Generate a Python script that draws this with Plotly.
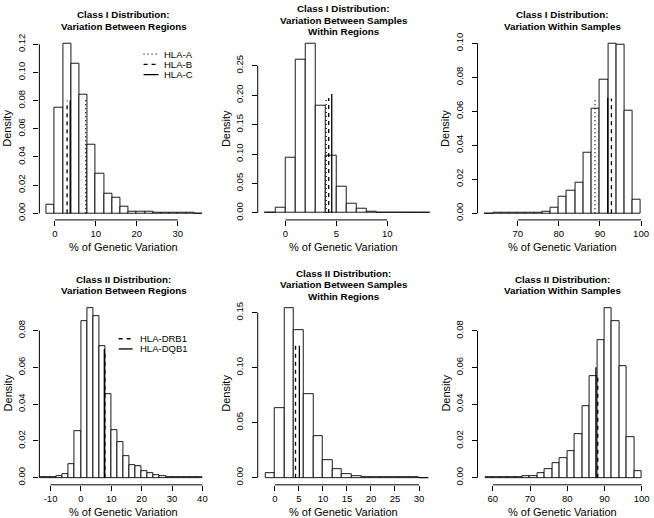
import plotly.graph_objects as go

# ---------------- data ----------------
# Class I - variation between regions
c1_reg_bin_start = -2
c1_reg_bin_width = 2
c1_reg_density = [0.0059, 0.0752, 0.1205, 0.1060, 0.0839, 0.0487, 0.0279, 0.0140, 0.0113, 0.0047,
                  0.0012, 0.0010, 0.0008, 0.0006, 0.0004, 0.0002, 0.0001, 0.0001, 0.00005]
c1_reg_obs = [7.5, 3.0, 3.75]
c1_reg_obs_top = [0.082, 0.080, 0.080]

# Class I - variation between samples within regions
c1_samp_bin_start = -2
c1_samp_bin_width = 1
c1_samp_density = [0.0001, 0.0084, 0.0936, 0.2595, 0.2876, 0.1820, 0.0970, 0.0448, 0.0163, 0.0067,
                   0.0028, 0.0012, 0.0006, 0.0003, 0.0002, 0.0001, 0.00005]
c1_samp_obs = [4.0, 4.25, 4.55]
c1_samp_obs_top = [0.195, 0.195, 0.202]

# Class I - variation within samples
c1_within_bin_start = 62
c1_within_bin_width = 2
c1_within_density = [0.00005, 0.0001, 0.0001, 0.0002, 0.0003, 0.0004, 0.0005, 0.0012, 0.0030, 0.0095,
                     0.0134, 0.0180, 0.0355, 0.0614, 0.0784, 0.0998, 0.0990, 0.0604, 0.0078]
c1_within_obs = [88.8, 92.8, 91.9]
c1_within_obs_top = [0.068, 0.0675, 0.068]

# Class II - variation between regions
c2_reg_bin_start = -14
c2_reg_bin_width = 2
c2_reg_density = [0.0002, 0.0003, 0.0005, 0.0009, 0.0018, 0.0071, 0.0252, 0.0850, 0.0920, 0.0880,
                  0.0714, 0.0457, 0.0256, 0.0194, 0.0118, 0.0070, 0.0061, 0.0038, 0.0023, 0.0014,
                  0.0009, 0.0005, 0.0003, 0.0002, 0.0001, 0.00005, 0.00003]
c2_reg_obs = [7.9, 7.7]
c2_reg_obs_top = [0.068, 0.070]

# Class II - variation between samples within regions
c2_samp_bin_start = -2
c2_samp_bin_width = 2
c2_samp_density = [0.0040, 0.0630, 0.1545, 0.1340, 0.0760, 0.0380, 0.0160, 0.0075, 0.0036, 0.0018,
                   0.0009, 0.0005, 0.0004, 0.0003, 0.0002, 0.0001, 0.00005]
c2_samp_obs = [4.3, 5.1]
c2_samp_obs_top = [0.120, 0.120]

# Class II - variation within samples
c2_within_bin_start = 58
c2_within_bin_width = 2
c2_within_density = [0.00005, 0.0001, 0.0001, 0.0003, 0.0005, 0.0007, 0.0011, 0.0023, 0.0049, 0.0079,
                     0.0104, 0.0146, 0.0239, 0.0388, 0.0552, 0.0752, 0.0926, 0.0852, 0.0608, 0.0219,
                     0.0034]
c2_within_obs = [88.2, 87.7]
c2_within_obs_top = [0.0566, 0.0602]

class1_loci = ["HLA-A", "HLA-B", "HLA-C"]
class2_loci = ["HLA-DRB1", "HLA-DQB1"]
locus_dash = {"HLA-A": "1px,3px", "HLA-B": "4px,4px", "HLA-C": "solid",
              "HLA-DRB1": "4px,4px", "HLA-DQB1": "solid"}

titles = [
    ["Class I Distribution:", "Variation Between Regions"],
    ["Class I Distribution:", "Variation Between Samples", "Within Regions"],
    ["Class I Distribution:", "Variation Within Samples"],
    ["Class II Distribution:", "Variation Between Regions"],
    ["Class II Distribution:", "Variation Between Samples", "Within Regions"],
    ["Class II Distribution:", "Variation Within Samples"],
]
x_label = "% of Genetic Variation"
y_label = "Density"

x_ticks = [[0, 10, 20, 30], [0, 5, 10], [70, 80, 90, 100],
           [-10, 0, 10, 20, 30, 40], [0, 5, 10, 15, 20, 25, 30], [60, 70, 80, 90, 100]]
y_ticks = [[0, 0.02, 0.04, 0.06, 0.08, 0.10, 0.12],
           [0, 0.05, 0.10, 0.15, 0.20, 0.25],
           [0, 0.02, 0.04, 0.06, 0.08, 0.10],
           [0, 0.02, 0.04, 0.06, 0.08],
           [0, 0.05, 0.10, 0.15],
           [0, 0.02, 0.04, 0.06, 0.08]]

panels = [
    (c1_reg_bin_start, c1_reg_bin_width, c1_reg_density, class1_loci, c1_reg_obs, c1_reg_obs_top),
    (c1_samp_bin_start, c1_samp_bin_width, c1_samp_density, class1_loci, c1_samp_obs, c1_samp_obs_top),
    (c1_within_bin_start, c1_within_bin_width, c1_within_density, class1_loci, c1_within_obs, c1_within_obs_top),
    (c2_reg_bin_start, c2_reg_bin_width, c2_reg_density, class2_loci, c2_reg_obs, c2_reg_obs_top),
    (c2_samp_bin_start, c2_samp_bin_width, c2_samp_density, class2_loci, c2_samp_obs, c2_samp_obs_top),
    (c2_within_bin_start, c2_within_bin_width, c2_within_density, class2_loci, c2_within_obs, c2_within_obs_top),
]

# ---------------- layout geometry (pixels) ----------------
W, H = 654, 518
COL_PX = [(39.5, 209.0), (258.5, 431.0), (479.0, 649.5)]
ROW_PX = [(33.0, 218.0), (300.0, 485.5)]
X_RANGE = [[-3.77, 37.47], [-2.73, 14.18], [60.23, 101.58],
           [-13.68, 41.97], [-3.57, 32.22], [55.9, 101.56]]
Y_RANGE = [[-0.0047, 0.1254], [-0.0118, 0.2993], [-0.0039, 0.1039],
           [-0.0039, 0.0960], [-0.0065, 0.1605], [-0.0039, 0.0962]]
TITLE_CENTER = [16.5, 283.5]
TITLE_LINE = 11.5

FONT = "Liberation Sans, Arial, Helvetica, sans-serif"


def px_x(px):
    return px / W


def px_y(py):
    return 1 - py / H


fig = go.Figure()
layout = dict(width=W, height=H, margin=dict(l=0, r=0, t=0, b=0),
              paper_bgcolor="white", plot_bgcolor="white", showlegend=False,
              font=dict(family=FONT, color="black"))
shapes = []
annotations = []

for i, (b0, bw, dens, loci, obs, obs_top) in enumerate(panels):
    r, c = divmod(i, 3)
    sfx = "" if i == 0 else str(i + 1)
    xa, ya = "x" + sfx, "y" + sfx
    (l_px, r_px), (t_px, b_px) = COL_PX[c], ROW_PX[r]

    centers = [b0 + bw * (k + 0.5) for k in range(len(dens))]
    fig.add_trace(go.Bar(x=centers, y=dens, width=bw, xaxis=xa, yaxis=ya,
                         marker=dict(color="white", line=dict(color="black", width=0.9)),
                         hoverinfo="x+y"))
    for name, v, top in zip(loci, obs, obs_top):
        fig.add_trace(go.Scatter(x=[v, v], y=[0, top], mode="lines", name=name,
                                 xaxis=xa, yaxis=ya,
                                 line=dict(color="black", width=1.3, dash=locus_dash[name])))

    layout["xaxis" + sfx] = dict(
        domain=[px_x(l_px), px_x(r_px)], range=X_RANGE[i], anchor=ya,
        showgrid=False, zeroline=False, showline=False,
        ticks="outside", ticklen=5, tickwidth=1, tickcolor="black",
        tickvals=x_ticks[i], ticktext=[str(t) for t in x_ticks[i]],
        tickfont=dict(size=9.5, family=FONT, color="black"))
    layout["yaxis" + sfx] = dict(
        domain=[px_y(b_px), px_y(t_px)], range=Y_RANGE[i], anchor=xa,
        showgrid=False, zeroline=False, showline=False,
        ticks="outside", ticklen=5, tickwidth=1, tickcolor="black",
        tickvals=y_ticks[i], ticktext=["%.2f" % t for t in y_ticks[i]],
        tickangle=-90, ticklabelstandoff=5,
        tickfont=dict(size=9.5, family=FONT, color="black"))

    # R-style axis lines: from first to last tick only
    shapes.append(dict(type="line", xref=xa, yref=ya + " domain",
                       x0=x_ticks[i][0], x1=x_ticks[i][-1], y0=0, y1=0,
                       line=dict(color="black", width=1)))
    shapes.append(dict(type="line", xref=xa + " domain", yref=ya,
                       x0=0, x1=0, y0=y_ticks[i][0], y1=y_ticks[i][-1],
                       line=dict(color="black", width=1)))

    # titles
    n = len(titles[i])
    cx = (l_px + r_px) / 2
    for k, line in enumerate(titles[i]):
        yy = TITLE_CENTER[r] + (k - (n - 1) / 2) * TITLE_LINE
        annotations.append(dict(text="<b>" + line + "</b>", x=px_x(cx), y=px_y(yy),
                                xref="paper", yref="paper", showarrow=False,
                                xanchor="center", yanchor="middle",
                                font=dict(size=9.8, family=FONT, color="black")))
    # axis titles
    annotations.append(dict(text=x_label, x=px_x(cx), y=px_y(b_px + 27),
                            xref="paper", yref="paper", showarrow=False,
                            xanchor="center", yanchor="middle",
                            font=dict(size=11, family=FONT, color="black")))
    annotations.append(dict(text=y_label, x=px_x(l_px - 32), y=px_y((t_px + b_px) / 2),
                            xref="paper", yref="paper", showarrow=False, textangle=-90,
                            xanchor="center", yanchor="middle",
                            font=dict(size=11, family=FONT, color="black")))

# legends (drawn R-style: short line sample + label, no box)
legend_specs = [
    (class1_loci, 144, 159, 162, 50.7, 10.3),
    (class2_loci, 119, 133, 138, 338.0, 10.3),
]
for loci, x0, x1, xt, y0, dy in legend_specs:
    for k, name in enumerate(loci):
        yy = y0 + k * dy
        d = locus_dash[name]
        shapes.append(dict(type="line", xref="paper", yref="paper",
                           x0=px_x(x0), x1=px_x(x1), y0=px_y(yy), y1=px_y(yy),
                           line=dict(color="black", width=1.3, dash=d)))
        annotations.append(dict(text=name, x=px_x(xt), y=px_y(yy), xref="paper", yref="paper",
                                showarrow=False, xanchor="left", yanchor="middle",
                                font=dict(size=9.5, family=FONT, color="black")))

layout["shapes"] = shapes
layout["annotations"] = annotations
layout["bargap"] = 0
fig.update_layout(**layout)
fig.write_html("out.html", config={"displayModeBar": False},
               post_script="document.body.style.margin='0';document.body.style.overflow='hidden';")
